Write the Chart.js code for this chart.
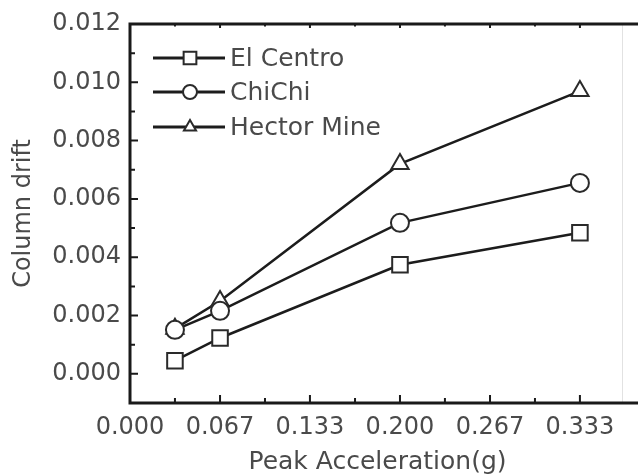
<!DOCTYPE html>
<html>
<head>
<meta charset="utf-8">
<script src="https://cdn.jsdelivr.net/npm/chart.js@4.4.1/dist/chart.umd.min.js"></script>
<style>
  html, body { margin: 0; padding: 0; background: #fff; }
  canvas { display: block; }
</style>
</head>
<body>
<canvas id="drift" width="638" height="476"></canvas>
<script>
// peak ground acceleration (g) and the column drift for each record
const pga = [0.0333, 0.0667, 0.2, 0.3333];
const elCentro = [0.00045, 0.00123, 0.00374, 0.00484];
const chiChi = [0.00151, 0.00216, 0.00518, 0.00655];
const hectorMine = [0.00155, 0.0025, 0.0072, 0.0097];
const seriesNames = ['El Centro', 'ChiChi', 'Hector Mine'];
const markerStyles = ['rect', 'circle', 'triangle'];

const xTickValues = [0, 0.0667, 0.1333, 0.2, 0.2667, 0.3333];
const xTickLabels = ['0.000', '0.067', '0.133', '0.200', '0.267', '0.333'];
const xMinorValues = [0.0333, 0.1, 0.1667, 0.2333, 0.3];
const yTickValues = [0, 0.002, 0.004, 0.006, 0.008, 0.010, 0.012];
const yTickLabels = ['0.000', '0.002', '0.004', '0.006', '0.008', '0.010', '0.012'];
const yMinorValues = [0.001, 0.003, 0.005, 0.007, 0.009, 0.011];

const textColor = '#4a4a4a';
const lineColor = '#1c1c1c';
const markerSizes = { rect: 11, circle: 9, triangle: 10 };

const toPoints = ys => pga.map((x, i) => ({ x: x, y: ys[i] }));

const datasets = [elCentro, chiChi, hectorMine].map((ys, i) => ({
    label: seriesNames[i],
    data: toPoints(ys),
    borderColor: lineColor,
    borderWidth: 2.5,
    pointStyle: markerStyles[i],
    pointRadius: markerSizes[markerStyles[i]],
    pointBackgroundColor: '#fff',
    pointBorderColor: '#2a2a2a',
    pointBorderWidth: 2,
    tension: 0,
}));

// axis box with inward major / minor ticks
const frame = {
    id: 'frame',
    beforeDatasetsDraw(chart) {
        const { ctx, chartArea: a, scales: { x, y } } = chart;
        ctx.save();
        ctx.strokeStyle = '#e2e2e2';
        ctx.lineWidth = 1;
        ctx.beginPath();
        ctx.moveTo(a.right - 2.5, a.top);
        ctx.lineTo(a.right - 2.5, a.bottom);
        ctx.stroke();

        ctx.strokeStyle = '#1a1a1a';
        ctx.lineWidth = 3;
        ctx.beginPath();
        ctx.moveTo(chart.width, a.top);
        ctx.lineTo(a.left, a.top);
        ctx.lineTo(a.left, a.bottom);
        ctx.lineTo(chart.width, a.bottom);
        ctx.stroke();

        ctx.lineWidth = 2;
        ctx.beginPath();
        const xTick = (v, len) => {
            const px = x.getPixelForValue(v);
            ctx.moveTo(px, a.bottom);
            ctx.lineTo(px, a.bottom - len);
            ctx.moveTo(px, a.top);
            ctx.lineTo(px, a.top + len * 0.5);
        };
        const yTick = (v, len) => {
            const py = y.getPixelForValue(v);
            ctx.moveTo(a.left, py);
            ctx.lineTo(a.left + len, py);
        };
        xTickValues.slice(1).forEach(v => xTick(v, 8));
        xMinorValues.forEach(v => xTick(v, 5));
        yTickValues.forEach(v => yTick(v, 8));
        yMinorValues.forEach(v => yTick(v, 5));
        ctx.stroke();
        ctx.restore();
    }
};

// legend inside the plot: line - marker - line, then the name
const insideLegend = {
    id: 'insideLegend',
    afterDatasetsDraw(chart) {
        const { ctx } = chart;
        const rows = [58, 92, 127];
        ctx.save();
        chart.data.datasets.forEach((ds, i) => {
            const yy = rows[i];
            ctx.strokeStyle = lineColor;
            ctx.lineWidth = 3;
            ctx.beginPath();
            ctx.moveTo(153, yy);
            ctx.lineTo(225, yy);
            ctx.stroke();
            ctx.fillStyle = '#fff';
            ctx.strokeStyle = '#2a2a2a';
            ctx.lineWidth = 2;
            Chart.helpers.drawPoint(ctx, {
                pointStyle: ds.pointStyle,
                radius: ds.pointStyle === 'rect' ? 9 : 7,
                rotation: 0,
                borderWidth: 2
            }, 190, yy);
            ctx.fillStyle = textColor;
            ctx.font = '25px "DejaVu Sans"';
            ctx.textBaseline = 'middle';
            ctx.textAlign = 'left';
            ctx.fillText(ds.label, 230, yy + 1);
        });
        ctx.restore();
    }
};

const tickFont = { family: 'DejaVu Sans', size: 24 };

new Chart(document.getElementById('drift').getContext('2d'), {
    type: 'line',
    data: { datasets: datasets },
    options: {
        responsive: false,
        animation: false,
        layout: { padding: { left: 0, right: 2, top: 24, bottom: 0 } },
        plugins: {
            legend: { display: false },
            tooltip: { enabled: false }
        },
        scales: {
            x: {
                type: 'linear',
                min: 0,
                max: 0.3667,
                afterBuildTicks: s => { s.ticks = xTickValues.map(v => ({ value: v })); },
                afterFit: s => { s.height = 73; },
                ticks: {
                    callback: (v, i) => xTickLabels[i],
                    font: tickFont,
                    color: textColor,
                    padding: 10,
                    maxRotation: 0,
                    autoSkip: false
                },
                grid: { display: false, drawTicks: false },
                border: { display: false },
                title: {
                    display: true,
                    text: 'Peak Acceleration(g)',
                    font: { family: 'DejaVu Sans', size: 25, lineHeight: 1.1 },
                    color: textColor,
                    padding: { top: 0, bottom: 0 }
                }
            },
            y: {
                type: 'linear',
                min: -0.001,
                max: 0.012,
                afterBuildTicks: s => { s.ticks = yTickValues.map(v => ({ value: v })); },
                afterFit: s => { s.width = 130; },
                ticks: {
                    callback: (v, i) => yTickLabels[i],
                    font: tickFont,
                    color: textColor,
                    padding: 9,
                    autoSkip: false
                },
                grid: { display: false, drawTicks: false },
                border: { display: false },
                title: {
                    display: true,
                    text: 'Column drift',
                    font: { family: 'DejaVu Sans', size: 24 },
                    color: textColor,
                    padding: { top: 9, bottom: 0 }
                }
            }
        }
    },
    plugins: [frame, insideLegend]
});
</script>
</body>
</html>
